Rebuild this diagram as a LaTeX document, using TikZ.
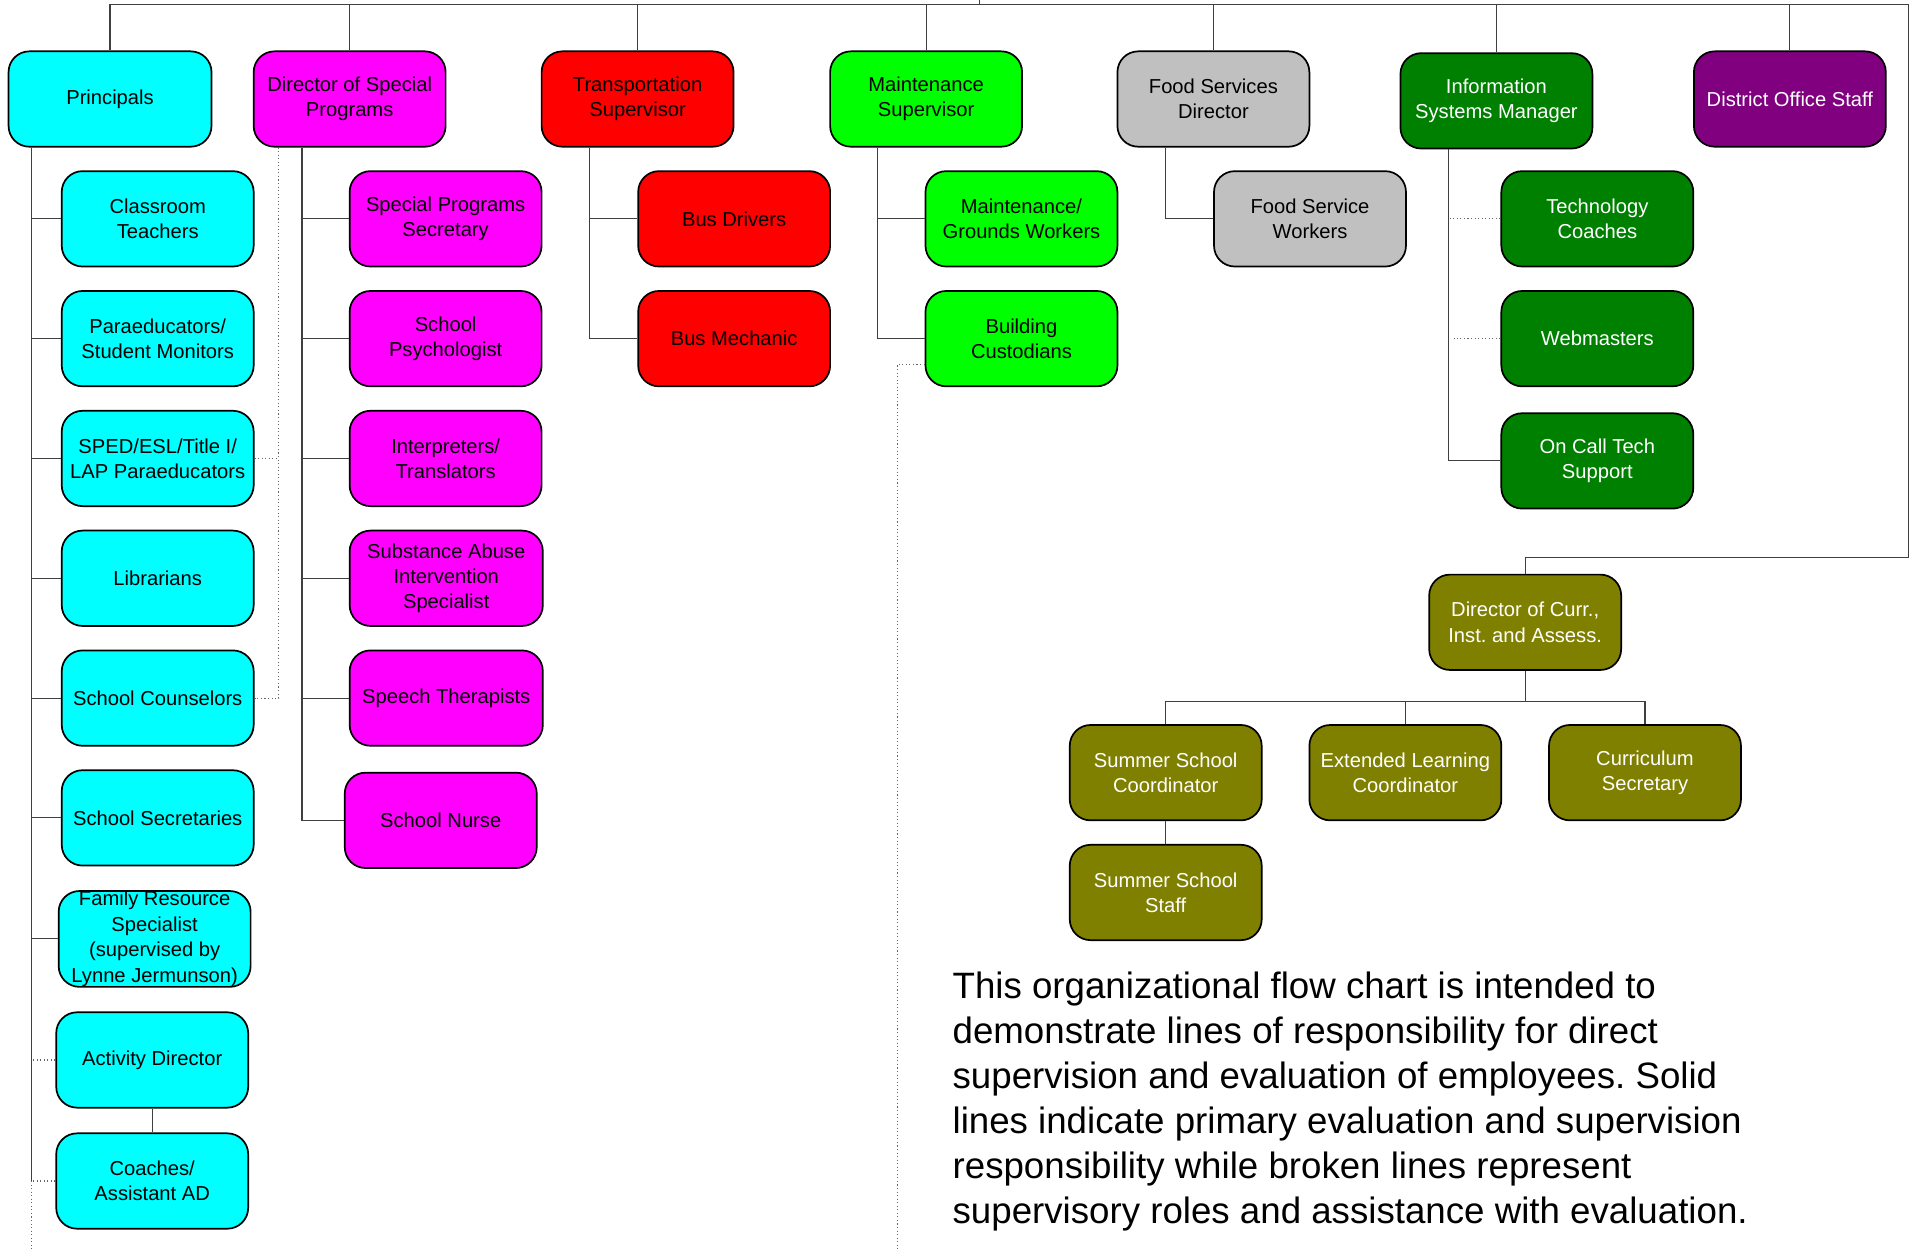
\documentclass[tikz,border=0pt]{standalone}
\usepackage{fontspec}
\setmainfont{Liberation Sans}
\frenchspacing
\definecolor{cyanc}{HTML}{00FFFF}
\definecolor{magc}{HTML}{FF00FF}
\definecolor{redc}{HTML}{FF0000}
\definecolor{limec}{HTML}{00FF00}
\definecolor{silverc}{HTML}{C0C0C0}
\definecolor{greenc}{HTML}{008000}
\definecolor{purplec}{HTML}{800080}
\definecolor{olivec}{HTML}{808000}
\begin{document}
\begin{tikzpicture}[x=1pt,y=-1pt,
  box/.style={draw=black, line width=1.4pt, rounded corners=17pt,
    minimum width=157pt, minimum height=78pt, inner sep=0pt, align=center,
    font=\fontsize{16.5}{20.5}\selectfont, text=black},
  wt/.style={text=white},
  con/.style={draw=black!75, line width=0.9pt},
  dot/.style={draw=black!60, line width=0.9pt, dotted}]
\useasboundingbox (0,0) rectangle (1568,1024);

% top row
\node[box, fill=cyanc, minimum width=166pt] (prin) at (90,81) {Principals};
\node[box, fill=magc] (dsp) at (286,81) {Director of Special\\Programs};
\node[box, fill=redc] (trans) at (521.5,81) {Transportation\\Supervisor};
\node[box, fill=limec] (maint) at (757.5,81) {Maintenance\\Supervisor};
\node[box, fill=silverc] (food) at (992.5,81) {Food Services\\Director};
\node[box, fill=greenc, wt] (info) at (1224,82.5) {Information\\Systems Manager};
\node[box, fill=purplec, wt] (dos) at (1464,81) {District Office Staff};

% principals children
\node[box, fill=cyanc] (ct) at (129,179) {Classroom\\Teachers};
\node[box, fill=cyanc] (pm) at (129,277) {Paraeducators/\\Student Monitors};
\node[box, fill=cyanc] (sped) at (129,375) {SPED/ESL/Title I/\\LAP Paraeducators};
\node[box, fill=cyanc] (lib) at (129,473) {Librarians};
\node[box, fill=cyanc] (sc) at (129,571) {School Counselors};
\node[box, fill=cyanc] (ss) at (129,669) {School Secretaries};
\node[box, fill=cyanc, font=\fontsize{16.5}{21}\selectfont] (fr) at (126.5,768) {Family Resource\\Specialist\\(supervised by\\Lynne Jermunson)};
\node[box, fill=cyanc] (ad) at (124.5,867) {Activity Director};
\node[box, fill=cyanc] (co) at (124.5,966) {Coaches/\\Assistant AD};

% director of special programs children
\node[box, fill=magc] (sps) at (364.5,179) {Special Programs\\Secretary};
\node[box, fill=magc] (psy) at (364.5,277) {School\\Psychologist};
\node[box, fill=magc] (int) at (364.5,375) {Interpreters/\\Translators};
\node[box, fill=magc, minimum width=158pt] (sub) at (365,473) {Substance Abuse\\Intervention\\Specialist};
\node[box, fill=magc, minimum width=158pt] (spt) at (365,571) {Speech Therapists};
\node[box, fill=magc] (nur) at (360.5,671) {School Nurse};

% transportation
\node[box, fill=redc] (bd) at (600.5,179) {Bus Drivers};
\node[box, fill=redc] (bm) at (600.5,277) {Bus Mechanic};

% maintenance
\node[box, fill=limec] (mg) at (835.5,179) {Maintenance/\\Grounds Workers};
\node[box, fill=limec] (bc) at (835.5,277) {Building\\Custodians};

% food
\node[box, fill=silverc] (fsw) at (1071.5,179) {Food Service\\Workers};

% info systems
\node[box, fill=greenc, wt] (tc) at (1306.5,179) {Technology\\Coaches};
\node[box, fill=greenc, wt] (web) at (1306.5,277) {Webmasters};
\node[box, fill=greenc, wt] (oct) at (1306.5,377) {On Call Tech\\Support};

% curriculum
\node[box, fill=olivec, wt] (dcia) at (1247.5,509) {Director of Curr.,\\Inst. and Assess.};
\node[box, fill=olivec, wt] (ssc) at (953.5,632) {Summer School\\Coordinator};
\node[box, fill=olivec, wt] (elc) at (1149.5,632) {Extended Learning\\Coordinator};
\node[box, fill=olivec, wt] (cs) at (1345.5,632) {Curriculum\\Secretary};
\node[box, fill=olivec, wt] (sss) at (953.5,730) {Summer School\\Staff};

% paragraph
\node[anchor=north west, inner sep=0pt, align=left, font=\fontsize{30}{36.7}\selectfont] (para) at (779,795)
{This organizational flow chart is intended to\\
demonstrate lines of responsibility for direct\\
supervision and evaluation of employees. Solid\\
lines indicate primary evaluation and supervision\\
responsibility while broken lines represent\\
supervisory roles and assistance with evaluation.};

% helper coordinates
\coordinate (topy) at (0,4);
\coordinate (bot) at (0,1024);
\coordinate (sup) at (801,0);
\coordinate (redge) at (1561,0);
\coordinate (rl) at (0,456);
\coordinate (pv) at (26,0);
\coordinate (dv) at (228,0);
\coordinate (sv) at (247,0);
\coordinate (tv) at (482,0);
\coordinate (mv) at (718,0);
\coordinate (bcv) at (734,0);
\coordinate (fv) at (953,0);
\coordinate (iv) at (1185,0);
\coordinate (hy) at (0,574);

% top bus
\draw[con] (prin.north) -- (prin.north |- topy) -- (redge |- topy) -- (redge |- rl) -- (dcia.north |- rl) -- (dcia.north);
\foreach \n in {dsp,trans,maint,food,info,dos}
  \draw[con] (\n.north) -- (\n.north |- topy);
\draw[con] (sup) -- (sup |- topy);

% principals
\draw[con] (pv |- prin.south) -- (pv |- co.west);
\draw[dot] (pv |- co.west) -- (pv |- bot);
\foreach \n in {ct,pm,sped,lib,sc,ss,fr}
  \draw[con] (\n.west) -- (\n.west -| pv);
\draw[dot] (ad.west) -- (ad.west -| pv);
\draw[dot] (co.west) -- (co.west -| pv);
\draw[con] (ad.south) -- (co.north);

% dotted from director of special programs
\draw[dot] (dv |- dsp.south) -- (dv |- sc.east) -- (sc.east);
\draw[dot] (sped.east) -- (sped.east -| dv);

% director of special programs solid
\draw[con] (sv |- dsp.south) -- (sv |- nur.west) -- (nur.west);
\foreach \n in {sps,psy,int,sub,spt}
  \draw[con] (\n.west) -- (\n.west -| sv);

% transportation
\draw[con] (tv |- trans.south) |- (bm.west);
\draw[con] (bd.west) -- (bd.west -| tv);

% maintenance
\draw[con] (mv |- maint.south) |- (bc.west);
\draw[con] (mg.west) -- (mg.west -| mv);
\coordinate (bcd) at ([yshift=-21pt]bc.west);
\draw[dot] (bcd) -- (bcd -| bcv) -- (bcv |- bot);

% food
\draw[con] (fv |- food.south) |- (fsw.west);

% info
\draw[con] (iv |- info.south) |- (oct.west);
\draw[dot] (tc.west) -- (tc.west -| iv);
\draw[dot] (web.west) -- ([xshift=4pt]web.west -| iv);

% curriculum
\draw[con] (dcia.south) -- (dcia.south |- hy);
\draw[con] (ssc.north) -- (ssc.north |- hy) -- (cs.north |- hy) -- (cs.north);
\draw[con] (elc.north) -- (elc.north |- hy);
\draw[con] (ssc.south) -- (sss.north);
\end{tikzpicture}
\end{document}
